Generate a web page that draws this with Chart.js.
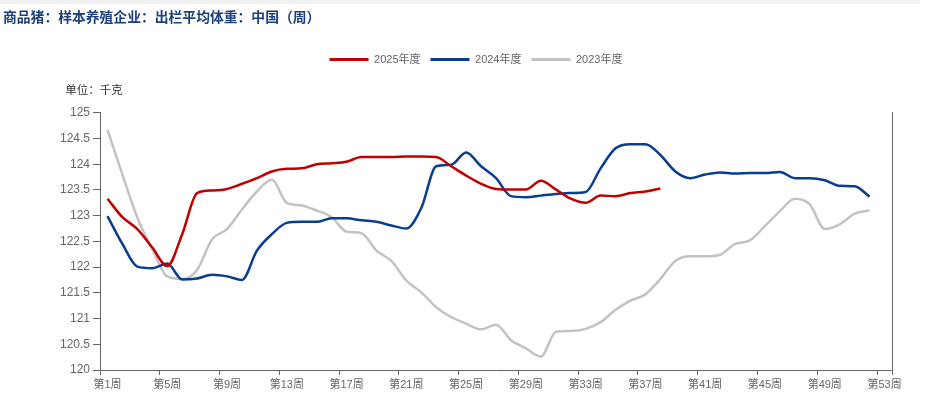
<!DOCTYPE html>
<html>
<head>
<meta charset="utf-8">
<script src="https://cdn.jsdelivr.net/npm/chart.js@4.4.1/dist/chart.umd.min.js"></script>
<style>
  body { margin: 0; background: #fff; }
  #wrap { position: relative; width: 925px; height: 399px; }
  #topbar { position: absolute; left: 0; top: 0; width: 920px; height: 4px; background: #f2f2f2; }
  #title { position: absolute; left: 3px; top: 6px; font: bold 13.8px "Noto Sans CJK SC", sans-serif; color: #1c3f7e; white-space: nowrap; }
</style>
</head>
<body>
<div id="wrap">
  <canvas id="lineChart" width="925" height="399"></canvas>
  <div id="topbar"></div>
  <div id="title">商品猪：样本养殖企业：出栏平均体重：中国（周）</div>
</div>
<script>
// week categories 第1周 .. 第53周
const weeks = [];
for (let i = 1; i <= 53; i++) weeks.push("第" + i + "周");

const y2025 = [123.33, 122.97, 122.74, 122.38, 122.02, 122.64, 123.44, 123.49, 123.52, 123.62,
  123.73, 123.86, 123.91, 123.92, 124.00, 124.02, 124.05, 124.14, 124.14, 124.14,
  124.15, 124.15, 124.14, 123.96, 123.78, 123.62, 123.52, 123.51, 123.51, 123.68,
  123.51, 123.33, 123.25, 123.39, 123.38, 123.44, 123.47, 123.53];

const y2024 = [122.99, 122.45, 122.01, 121.98, 122.07, 121.76, 121.78, 121.85, 121.82, 121.75,
  122.32, 122.64, 122.86, 122.88, 122.88, 122.95, 122.95, 122.91, 122.88, 122.81,
  122.75, 123.15, 123.96, 123.99, 124.23, 123.96, 123.73, 123.38, 123.36, 123.39,
  123.42, 123.44, 123.46, 123.92, 124.31, 124.39, 124.39, 124.18, 123.86, 123.73,
  123.80, 123.84, 123.82, 123.83, 123.83, 123.85, 123.73, 123.73, 123.69, 123.58,
  123.57, 123.37];

const y2023 = [124.67, 123.80, 122.96, 122.35, 121.82, 121.77, 121.95, 122.54, 122.74, 123.12,
  123.47, 123.70, 123.25, 123.20, 123.10, 122.97, 122.69, 122.66, 122.32, 122.12,
  121.74, 121.51, 121.22, 121.03, 120.90, 120.79, 120.88, 120.58, 120.42, 120.26,
  120.74, 120.76, 120.80, 120.93, 121.17, 121.35, 121.47, 121.77, 122.12, 122.21,
  122.21, 122.24, 122.45, 122.52, 122.80, 123.09, 123.33, 123.22, 122.74, 122.83,
  123.04, 123.10];

const FONT = "'Liberation Sans', 'Noto Sans CJK SC', sans-serif";
const AXIS = "#666";

function line(label, data, color) {
  return {
    label: label,
    data: data,
    borderColor: color,
    backgroundColor: color,
    borderWidth: 2.5,
    pointRadius: 0,
    fill: false,
    cubicInterpolationMode: 'monotone'
  };
}

const CHART = document.getElementById("lineChart");
let lineChart = new Chart(CHART, {
  type: 'line',
  data: {
    labels: weeks,
    datasets: [
      line("2025年度", y2025, "#c00000"),
      line("2024年度", y2024, "#0b3d8f"),
      line("2023年度", y2023, "#c3c3c3")
    ]
  },
  options: {
    responsive: false,
    devicePixelRatio: 1,
    animation: false,
    layout: { padding: { top: 44, left: 60, right: 33, bottom: 0 } },
    plugins: {
      tooltip: { enabled: false },
      title: { display: false },
      legend: {
        position: 'top',
        labels: {
          boxWidth: 39,
          boxHeight: 3,
          padding: 10,
          color: '#666',
          font: { family: FONT, size: 11 },
          generateLabels: chart => Chart.defaults.plugins.legend.labels.generateLabels(chart)
            .map(l => Object.assign(l, { lineWidth: 0 }))
        }
      },
      subtitle: {
        display: true,
        text: '  单位：千克',
        align: 'start',
        weight: 500,
        color: '#333',
        font: { family: "'Noto Sans CJK SC', sans-serif", size: 11.5, weight: 'normal' },
        padding: { top: 8, bottom: 16 }
      }
    },
    scales: {
      x: {
        offset: true,
        grid: {
          offset: true,
          drawOnChartArea: false,
          drawTicks: true,
          tickLength: 5,
          color: c => (c.index === undefined || c.index % 4 === 0) ? AXIS : 'rgba(0,0,0,0)'
        },
        border: { color: AXIS },
        ticks: {
          autoSkip: false,
          maxRotation: 0,
          color: '#666',
          padding: 3,
          font: { family: FONT, size: 11 },
          callback: (v, i) => i % 4 === 0 ? weeks[i] : ''
        },
        afterFit: s => { s.height = 29; }
      },
      y: {
        min: 120,
        max: 125,
        grid: { drawOnChartArea: false, tickLength: 7, color: AXIS },
        border: { color: AXIS },
        ticks: {
          stepSize: 0.5,
          color: '#666',
          padding: 3,
          font: { family: FONT, size: 12 },
          callback: v => String(v)
        },
        afterFit: s => { s.width = 40; }
      },
      y2: {
        position: 'right',
        grid: { display: false },
        ticks: { display: false },
        border: { display: true, color: AXIS },
        afterFit: s => { s.width = 0; }
      }
    }
  }
});
</script>
</body>
</html>
